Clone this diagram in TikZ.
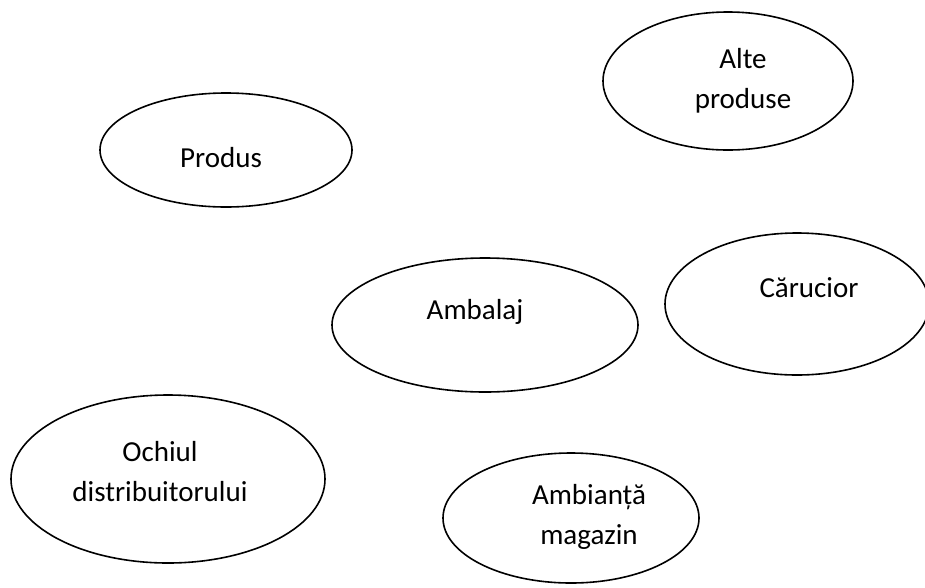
\documentclass[tikz,border=0pt]{standalone}
\usepackage{fontspec}
\setmainfont{Carlito}
\usetikzlibrary{shapes.geometric}
\begin{document}
\begin{tikzpicture}[x=1pt,y=-1pt,
  oval/.style={draw=black,line width=1.6pt,ellipse,inner sep=0pt},
  lbl/.style={align=center,inner sep=0pt,font=\fontsize{29}{40}\selectfont}]
\useasboundingbox (0,0) rectangle (925,587);
\clip (0,0) rectangle (925,587);
% ovals
\node[oval,minimum width=250pt,minimum height=138pt] (alte) at (728,81) {};
\node[oval,minimum width=252pt,minimum height=114pt] (produs) at (226,150) {};
\node[oval,minimum width=306pt,minimum height=134pt] (ambalaj) at (485,325) {};
\node[oval,minimum width=264pt,minimum height=142pt] (carucior) at (797,304) {};
\node[oval,minimum width=314pt,minimum height=168pt] (ochiul) at (168,479) {};
\node[oval,minimum width=256pt,minimum height=130pt] (ambianta) at (571,518) {};
% labels
\node[lbl] (talte) at (743,81) {Alte\\produse};
\node[lbl] (tprodus) at (221,158) {Produs};
\node[lbl] (tambalaj) at (475,312) {Ambalaj};
\node[lbl] (tcarucior) at (809,288) {Cărucior};
\node[lbl] (tochiul) at (160,472) {Ochiul\\distribuitorului};
\node[lbl] (tambianta) at (589,517) {Ambianță\\magazin};
\end{tikzpicture}
\end{document}
